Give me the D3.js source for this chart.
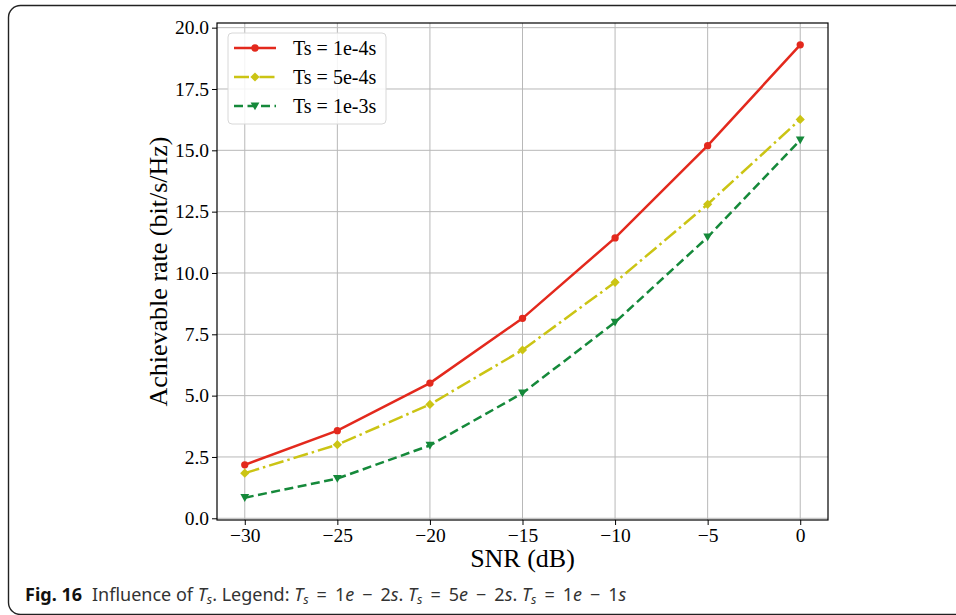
<!DOCTYPE html>
<html>
<head>
<meta charset="utf-8">
<script src="https://cdn.jsdelivr.net/npm/d3@7"></script>
<style>
  html, body { margin: 0; padding: 0; background: #fff; }
  svg { display: block; }
</style>
</head>
<body>
<div id="chart"></div>
<script>
// values
const snrValues = [-30, -25, -20, -15, -10, -5, 0];
const rateTs1e4 = [2.18, 3.57, 5.51, 8.15, 11.43, 15.19, 19.3];
const rateTs5e4 = [1.84, 3.0, 4.64, 6.86, 9.62, 12.8, 16.26];
const rateTs1e3 = [0.84, 1.62, 2.97, 5.1, 7.99, 11.46, 15.42];
const seriesNames = ['Ts = 1e-4s', 'Ts = 5e-4s', 'Ts = 1e-3s'];
const xTicks = [-30, -25, -20, -15, -10, -5, 0];
const yTicks = [0, 2.5, 5, 7.5, 10, 12.5, 15, 17.5, 20];

const W = 956, H = 615;
const margin = { top: 23, right: 128, bottom: 95, left: 217 };
const width = W - margin.left - margin.right;
const height = H - margin.top - margin.bottom;

const svg = d3.select('#chart').append('svg')
    .attr('width', W)
    .attr('height', H);

// figure frame (only top/left visible)
svg.append('rect')
    .attr('x', 8.5).attr('y', 5.5)
    .attr('width', 1000).attr('height', 609)
    .attr('rx', 12).attr('ry', 12)
    .attr('fill', 'none')
    .attr('stroke', '#222')
    .attr('stroke-width', 1.4);

const g = svg.append('g')
    .attr('transform', `translate(${margin.left},${margin.top})`);

const x = d3.scaleLinear().domain([-31.5, 1.5]).range([0, width]);
const y = d3.scaleLinear().domain([-0.07, 20.19]).range([height, 0]);

// grid
g.append('g')
    .selectAll('line.vg')
    .data(xTicks)
    .enter().append('line')
    .attr('x1', d => x(d)).attr('x2', d => x(d))
    .attr('y1', 0).attr('y2', height)
    .attr('stroke', '#b8b8b8').attr('stroke-width', 1);

g.append('g')
    .selectAll('line.hg')
    .data(yTicks)
    .enter().append('line')
    .attr('y1', d => y(d)).attr('y2', d => y(d))
    .attr('x1', 0).attr('x2', width)
    .attr('stroke', '#b8b8b8').attr('stroke-width', 1);

const serif = '"Liberation Serif", "Times New Roman", serif';

// axes
const xAxis = g.append('g')
    .attr('transform', `translate(0,${height})`)
    .call(d3.axisBottom(x).tickValues(xTicks).tickSize(5).tickPadding(3).tickFormat(d3.format('d')));
const yAxis = g.append('g')
    .call(d3.axisLeft(y).tickValues(yTicks).tickSize(5).tickPadding(3).tickFormat(d3.format('.1f')));

[xAxis, yAxis].forEach(a => {
    a.select('.domain').remove();
    a.selectAll('line').attr('stroke', '#000').attr('stroke-width', 1);
    a.selectAll('text')
        .attr('font-family', serif)
        .attr('font-size', '19.5px')
        .attr('fill', '#000');
});

// spines
g.append('rect')
    .attr('x', 0).attr('y', 0)
    .attr('width', width).attr('height', height)
    .attr('fill', 'none')
    .attr('stroke', '#000')
    .attr('stroke-width', 1.2);

// series
const series = [
    { name: seriesNames[0], values: rateTs1e4, color: '#e3291d', dash: null, marker: 'circle' },
    { name: seriesNames[1], values: rateTs5e4, color: '#cbc414', dash: '15,4,2.5,4', marker: 'diamond' },
    { name: seriesNames[2], values: rateTs1e3, color: '#15893a', dash: '9,4.5', marker: 'tri' }
];

const line = d3.line()
    .x(d => x(d[0]))
    .y(d => y(d[1]));

function markerPath(type) {
    if (type === 'circle') return d3.symbol().type(d3.symbolCircle).size(42)();
    if (type === 'diamond') return 'M0,-4.6L4.6,0L0,4.6L-4.6,0Z';
    return 'M-4.4,-3.6L4.4,-3.6L0,4.2Z';
}

series.forEach(s => {
    const pts = snrValues.map((v, i) => [v, s.values[i]]);
    g.append('path')
        .datum(pts)
        .attr('d', line)
        .attr('fill', 'none')
        .attr('stroke', s.color)
        .attr('stroke-width', 2.5)
        .attr('stroke-dasharray', s.dash);
    g.selectAll(null)
        .data(pts)
        .enter().append('path')
        .attr('d', markerPath(s.marker))
        .attr('transform', d => `translate(${x(d[0])},${y(d[1])})`)
        .attr('fill', s.color);
});

// legend
const legend = g.append('g').attr('transform', 'translate(11,10)');
legend.append('rect')
    .attr('x', 0).attr('y', 0)
    .attr('width', 158).attr('height', 91)
    .attr('rx', 4).attr('ry', 4)
    .attr('fill', '#fff').attr('fill-opacity', 0.85)
    .attr('stroke', '#d8d8d8').attr('stroke-width', 1);

series.forEach((s, i) => {
    const ly = 15 + i * 29;
    legend.append('line')
        .attr('x1', 6).attr('x2', 48)
        .attr('y1', ly).attr('y2', ly)
        .attr('stroke', s.color)
        .attr('stroke-width', 2.5)
        .attr('stroke-dasharray', s.dash);
    legend.append('path')
        .attr('d', markerPath(s.marker))
        .attr('transform', `translate(27,${ly})`)
        .attr('fill', s.color);
    legend.append('text')
        .attr('x', 65).attr('y', ly)
        .attr('dy', '0.34em')
        .attr('font-family', serif)
        .attr('font-size', '20px')
        .text(s.name);
});

// axis labels
g.append('text')
    .attr('x', width / 2)
    .attr('y', height + 47)
    .attr('text-anchor', 'middle')
    .attr('font-family', serif)
    .attr('font-size', '26px')
    .text('SNR (dB)');

g.append('text')
    .attr('transform', `translate(-50,${height / 2}) rotate(-90)`)
    .attr('text-anchor', 'middle')
    .attr('font-family', serif)
    .attr('font-size', '26px')
    .text('Achievable rate (bit/s/Hz)');

// caption
const cap = svg.append('text')
    .attr('x', 25).attr('y', 601)
    .attr('font-family', '"Noto Sans", "Open Sans", sans-serif')
    .attr('font-size', '18px')
    .attr('fill', '#333');
cap.append('tspan').attr('font-weight', 'bold').attr('fill', '#111').text('Fig. 16');
cap.append('tspan').attr('dx', 10).text('Influence of ');

// italic T with subscript s; next tspan must shift back by 3
function ts() {
    cap.append('tspan').attr('font-style', 'italic').text('T');
    cap.append('tspan').attr('font-style', 'italic').attr('font-size', '12.5px').attr('dy', 3).text('s');
}
ts();
cap.append('tspan').attr('dy', -3).text('. Legend: ');
const parts = [['1', '2'], ['5', '2'], ['1', '1']];
parts.forEach((p, i) => {
    ts();
    cap.append('tspan').attr('dy', -3).attr('dx', 8).text('=');
    cap.append('tspan').attr('dx', 8).text(p[0]);
    cap.append('tspan').attr('font-style', 'italic').text('e');
    cap.append('tspan').attr('dx', 8).text('\u2212');
    cap.append('tspan').attr('dx', 8).text(p[1]);
    cap.append('tspan').attr('font-style', 'italic').text('s');
    if (i < parts.length - 1) cap.append('tspan').text('. ');
});
</script>
</body>
</html>
